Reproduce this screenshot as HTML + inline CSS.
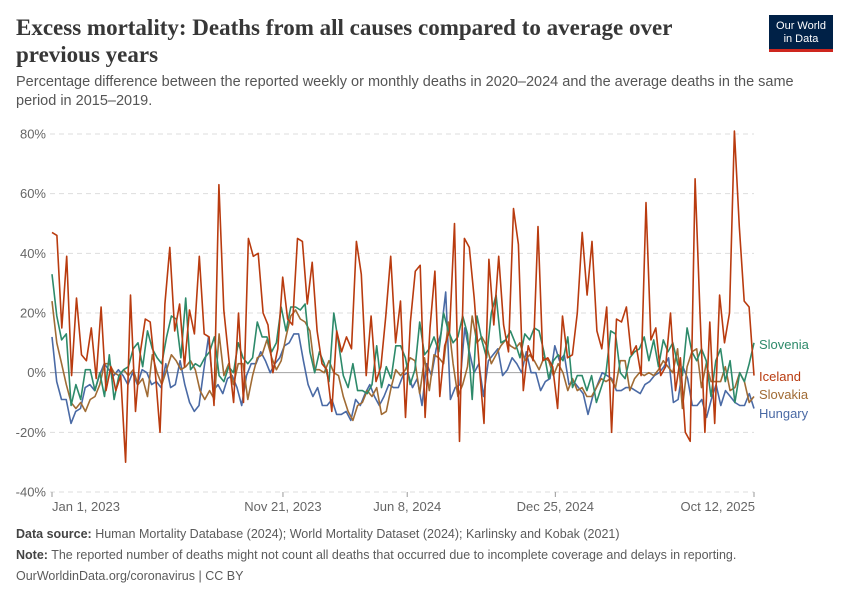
<!DOCTYPE html>
<html><head><meta charset="utf-8"><style>
body{margin:0;background:#fff;font-family:"Liberation Sans",sans-serif;}
#wrap{position:relative;width:850px;height:600px;overflow:hidden;}
.title{position:absolute;left:16px;top:14px;font-family:"Liberation Serif",serif;font-weight:bold;font-size:23px;line-height:27px;color:#373737;width:700px;}
.sub{position:absolute;left:16px;top:73px;font-size:14.5px;line-height:19px;color:#555;width:800px;}
.logo{position:absolute;left:769px;top:15px;width:64px;height:37px;background:#002147;color:#fff;font-size:11px;line-height:13px;text-align:center;padding-top:5px;box-sizing:border-box;border-bottom:3px solid #ce261e;}
.foot{position:absolute;left:16px;font-size:12.5px;color:#5b5b5b;}
.foot b{color:#444;}
</style></head><body>
<div id="wrap">
<div class="title">Excess mortality: Deaths from all causes compared to average over previous years</div>
<div class="sub">Percentage difference between the reported weekly or monthly deaths in 2020–2024 and the average deaths in the same period in 2015–2019.</div>
<div class="logo">Our World<br>in Data</div>
<svg id="chart" width="850" height="600" style="position:absolute;left:0;top:0"></svg>
<div class="foot" style="top:527px"><b>Data source:</b> Human Mortality Database (2024); World Mortality Dataset (2024); Karlinsky and Kobak (2021)</div>
<div class="foot" style="top:548px"><b>Note:</b> The reported number of deaths might not count all deaths that occurred due to incomplete coverage and delays in reporting.</div>
<div class="foot" style="top:569px">OurWorldinData.org/coronavirus | CC BY</div>
</div>
<script>
const yTicks=[-40,-20,0,20,40,60,80];
const xTickLabels=["Jan 1, 2023","Nov 21, 2023","Jun 8, 2024","Dec 25, 2024","Oct 12, 2025"];
const xTickFrac=[0,0.329,0.506,0.717,1];
const seriesNames=["Slovenia","Iceland","Slovakia","Hungary"];
const iceland=[47,46,15,39,-1,25,6,4,15,-2,22,-6,2,-6,-1,-30,26,-13,7,18,17,1,-20,23,42,14,23,2,21,13,39,13,12,-11,
63,21,5,-10,20,-10,45,39,40,20,16,0,8,32,18,16,45,44,23,37,14,3,1,-13,14,7,12,8,44,33,-1,19,-3,2,19,39,
10,24,-15,17,34,36,-15,15,34,-8,9,14,50,-23,45,42,25,3,-17,38,16,39,16,7,55,43,-6,9,4,49,4,5,2,-12,19,5,
6,20,47,26,44,14,8,22,-20,18,17,22,6,9,-1,57,11,15,-1,2,20,-6,5,-20,-23,65,20,-20,17,-17,26,10,20,81,49,24,22,-1];
const slovenia=[33,19,11,13,-11,-4,-9,1,1,-6,0,-8,6,-9,-1,1,2,8,10,2,14,8,5,3,12,19,18,5,25,1,3,2,5,7,12,-1,
-3,2,0,10,5,3,5,17,12,12,7,10,22,14,22,22,21,23,7,0,7,3,-3,20,10,-1,-5,3,-6,-6,-7,-4,9,-5,2,-2,9,
9,5,-4,1,17,6,8,12,7,20,14,10,12,19,13,-9,19,11,5,20,26,10,11,14,10,5,13,11,15,14,7,-2,4,6,4,12,-5,
-1,-1,-6,-1,-10,-5,0,14,13,0,-2,5,7,8,12,4,11,2,11,7,10,3,-1,15,7,4,8,4,-8,4,8,-3,4,-10,0,-3,3,10];
const slovakia=[24,10,3,-4,-10,-12,-10,-13,-9,-8,-4,3,3,0,-1,1,-1,1,-4,-2,-8,6,0,-4,1,6,4,1,2,4,1,-6,-9,-6,-9,13,-1,
3,-4,3,3,-9,-1,5,6,11,5,1,4,12,19,21,18,17,14,1,1,0,4,0,-1,-8,-13,-16,-11,-10,-6,-8,-5,-14,-13,-5,1,-1,
1,5,4,-7,5,-6,6,5,3,17,3,-8,-4,2,19,10,12,9,3,6,9,11,9,8,10,4,6,4,1,5,4,-1,3,0,-6,-2,-6,
-5,-8,-8,-5,-2,-3,-2,-5,4,4,-6,-2,0,-1,0,-1,1,4,2,0,8,-12,2,7,8,-5,3,-3,-3,-3,2,-6,-5,0,-3,-10,-8];
const hungary=[12,-3,-9,-9,-17,-13,-12,-5,-4,-6,-1,3,1,-1,1,-1,-4,0,-4,1,0,-4,-3,-5,3,-5,-4,4,-4,-10,-13,-11,1,12,-6,-4,
-7,-2,-1,-5,-11,-1,3,3,7,4,0,3,5,9,10,13,13,4,-4,-8,-5,-11,-11,-9,-14,-14,-13,-16,-9,-11,-7,-4,-8,-11,-8,-4,-5,
-5,-1,0,-5,-2,-11,3,-1,8,13,27,-9,-5,-4,15,7,0,3,-8,4,6,8,-1,1,5,3,0,7,0,0,-6,-3,-2,9,4,6,-4,
-3,-5,-7,-14,-8,-4,0,-1,-2,-6,-6,-5,-5,-6,-7,-4,-3,-1,0,2,5,-10,-9,2,-2,-11,-11,-9,-15,-9,-4,-11,-6,-8,-10,-11,-11,-7,-12];
const colors=["#2d8a6a","#b93b0f","#a06b34","#4a6aa5"];
const X0=52,X1=754,YTOP=134,YBOT=492;
function yScale(v){return YBOT-(v+40)/120*(YBOT-YTOP);}
function xScale(i,n){return X0+i*(X1-X0)/(n-1);}
const svg=document.getElementById('chart');
const NS="http://www.w3.org/2000/svg";
function mk(t,a){const e=document.createElementNS(NS,t);for(const k in a)e.setAttribute(k,a[k]);svg.appendChild(e);return e;}
yTicks.forEach(v=>{
  const y=yScale(v);
  const l=mk('line',{x1:X0-2,x2:X1,y1:y,y2:y,stroke:v===0?'#a3a3a3':'#dddddd','stroke-dasharray':v===0?'':'5,4','stroke-width':1});
  
  
  const t=mk('text',{x:46,y:y+4.5,'text-anchor':'end','font-size':13,fill:'#666','font-family':'Liberation Sans, sans-serif'});
  t.textContent=v+'%';
  
  
});
xTickLabels.forEach((s,i)=>{
  const x=X0+xTickFrac[i]*(X1-X0);
  const tk=mk('line',{x1:x,x2:x,y1:YBOT,y2:YBOT+5,stroke:'#999'});
  
  
  const anchor=i===0?'start':(i===xTickLabels.length-1?'end':'middle');
  const t=mk('text',{x:i===0?x:(i===xTickLabels.length-1?x+1:x),y:YBOT+19,'text-anchor':anchor,'font-size':13,fill:'#666','font-family':'Liberation Sans, sans-serif'});
  t.textContent=s;
  
  
});
const all=[slovenia,iceland,slovakia,hungary];
const order=[3,2,0,1];
order.forEach(k=>{
  const d=all[k];
  const pts=d.map((v,i)=>xScale(i,d.length).toFixed(1)+','+yScale(v).toFixed(1)).join(' ');
  const p=mk('polyline',{points:pts,fill:'none',stroke:colors[k],'stroke-width':1.6,'stroke-linejoin':'round'});
  
  
});
const legY=[349,381,399,418];
seriesNames.forEach((s,k)=>{
  const t=mk('text',{x:759,y:legY[k],'font-size':13,fill:colors[k],'font-family':'Liberation Sans, sans-serif'});
  t.textContent=s;
  
  
});
</script>
</body></html>
